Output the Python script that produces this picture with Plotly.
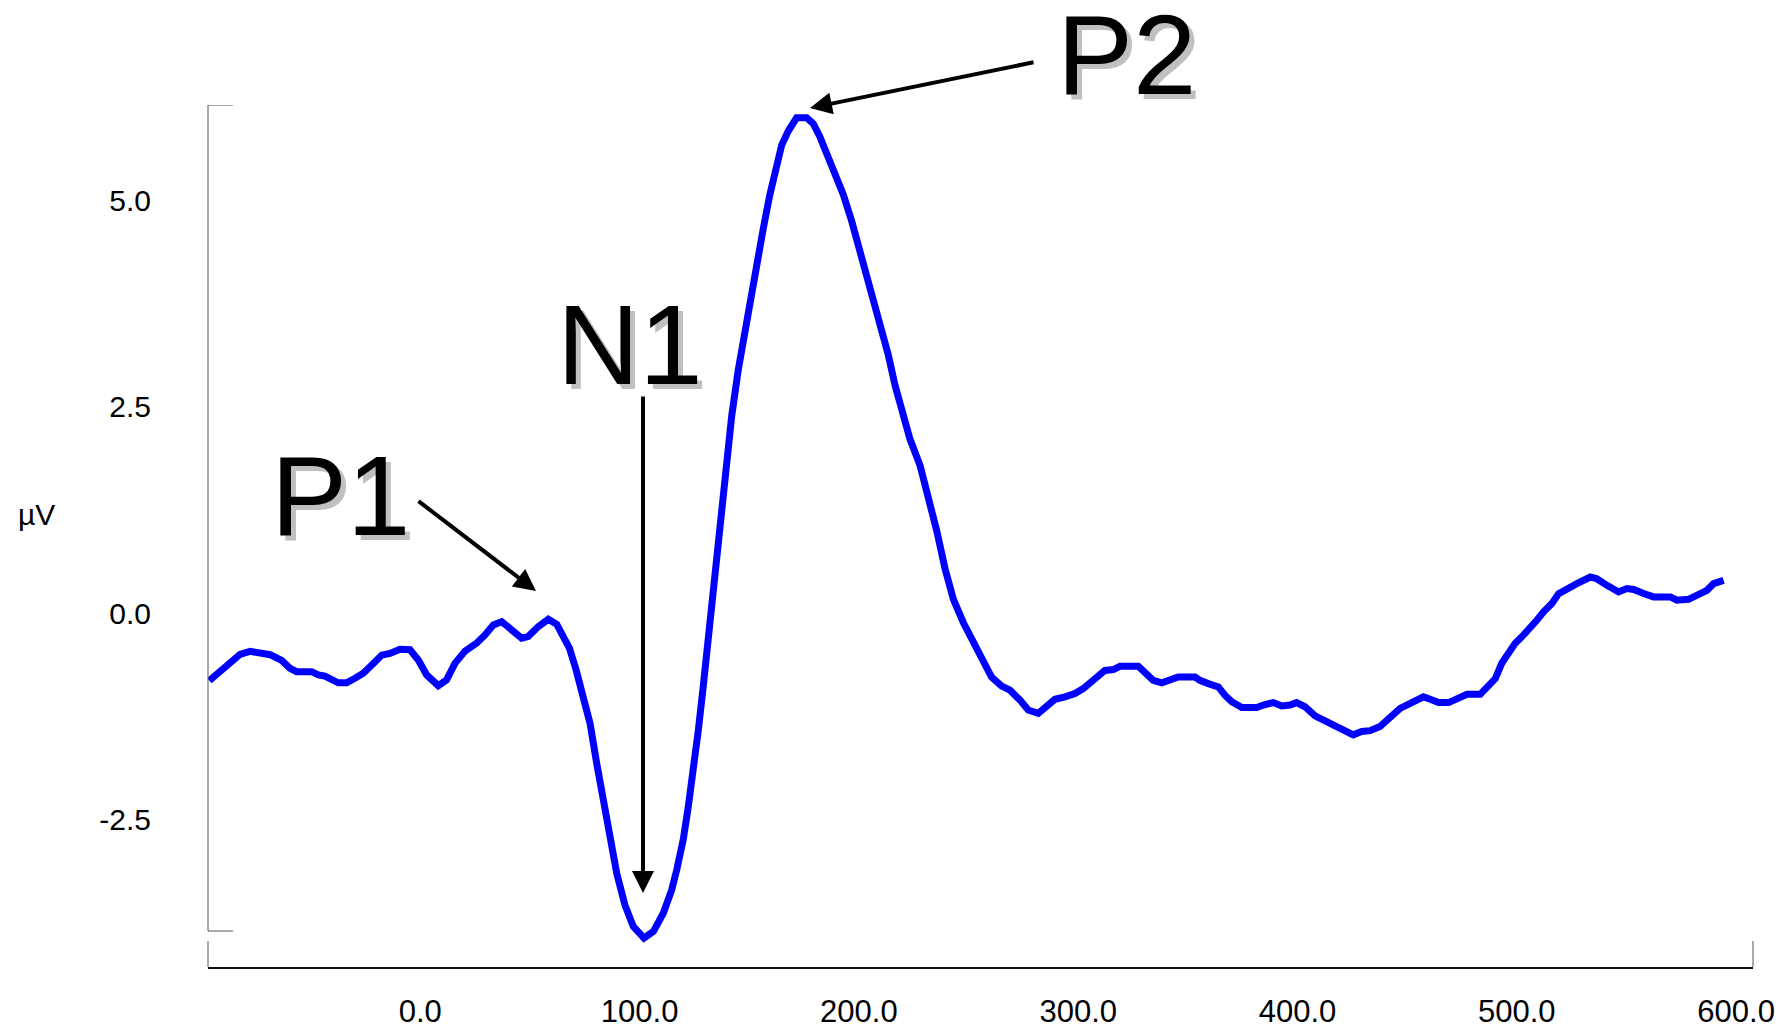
import plotly.graph_objects as go

# Grand-average ERP waveform (time in ms, amplitude in microvolts)
time_ms = [
    -96.2, -86.8, -82.2, -77.6, -73.1, -68.5, -63.2, -59.4, -56.4, -49.5,
    -46.5, -43.5, -37.4, -33.6, -29.8, -26.0, -21.4, -17.6, -13.8, -9.3,
    -4.7, -0.9, 2.9, 8.2, 12.0, 15.8, 20.4, 25.7, 29.5, 33.3,
    37.1, 41.7, 46.2, 49.2, 53.8, 58.4, 62.2, 65.2, 68.0, 71.0,
    74.0, 77.4, 80.4, 83.4, 86.5, 89.6, 93.3, 97.1, 102.0, 106.3,
    110.8, 114.6, 116.9, 119.9, 122.2, 124.5, 126.8, 129.0, 131.3, 133.6,
    136.0, 138.5, 142.0, 145.0, 147.3, 150.3, 153.4, 156.4, 159.4, 162.5,
    164.8, 167.8, 171.6, 176.2, 179.2, 182.2, 185.3, 189.1, 192.9, 196.7,
    200.5, 205.1, 209.6, 213.4, 216.5, 219.5, 223.3, 227.9, 231.6, 235.5,
    239.3, 243.1, 247.6, 252.2, 256.7, 260.5, 265.1, 268.9, 273.5, 277.2,
    281.8, 285.6, 289.4, 294.0, 298.5, 302.3, 305.4, 308.4, 312.2, 316.0,
    319.1, 327.4, 330.5, 334.2, 338.1, 341.1, 345.6, 353.3, 355.5, 359.3,
    363.9, 366.9, 370.0, 374.6, 381.4, 384.4, 389.0, 392.8, 396.6, 399.6,
    403.4, 408.0, 412.5, 417.1, 420.9, 425.4, 429.3, 433.1, 437.6, 442.2,
    446.8, 451.4, 457.4, 460.5, 464.3, 468.9, 472.7, 477.3, 483.3, 487.1,
    490.2, 493.2, 496.2, 499.3, 503.1, 506.1, 509.2, 512.2, 516.0, 519.1,
    522.9, 527.4, 533.5, 536.5, 541.1, 546.4, 550.2, 553.3, 557.8, 562.4,
    570.0, 573.0, 578.3, 582.1, 586.7, 589.7, 594.3,
]
amplitude_uv = [
    -0.815, -0.585, -0.495, -0.46, -0.47, -0.50, -0.57, -0.665, -0.705, -0.705,
    -0.745, -0.76, -0.84, -0.84, -0.785, -0.725, -0.605, -0.505, -0.485, -0.435,
    -0.44, -0.565, -0.745, -0.875, -0.805, -0.605, -0.455, -0.36, -0.26, -0.14,
    -0.10, -0.20, -0.30, -0.28, -0.16, -0.07, -0.13, -0.28, -0.42, -0.68,
    -0.97, -1.33, -1.81, -2.26, -2.74, -3.15, -3.53, -3.79, -3.93, -3.85,
    -3.63, -3.35, -3.11, -2.74, -2.34, -1.94, -1.41, -0.89, -0.32, 0.20,
    0.85, 1.55, 2.39, 2.95, 3.31, 3.82, 4.29, 4.66, 5.07, 5.40,
    5.67, 5.84, 6.00, 6.00, 5.93, 5.77, 5.56, 5.30, 5.07, 4.75,
    4.38, 3.96, 3.55, 3.13, 2.76, 2.44, 2.11, 1.79, 1.42, 1.00,
    0.54, 0.17, -0.11, -0.34, -0.60, -0.77, -0.88, -0.93, -1.05, -1.17,
    -1.21, -1.13, -1.04, -1.01, -0.97, -0.91, -0.84, -0.79, -0.69, -0.68,
    -0.64, -0.64, -0.71, -0.81, -0.84, -0.81, -0.77, -0.77, -0.81, -0.85,
    -0.89, -0.99, -1.07, -1.14, -1.14, -1.11, -1.08, -1.12, -1.11, -1.08,
    -1.13, -1.24, -1.30, -1.35, -1.42, -1.47, -1.43, -1.42, -1.37, -1.25,
    -1.15, -1.09, -1.01, -1.04, -1.08, -1.08, -1.04, -0.98, -0.98, -0.89,
    -0.79, -0.60, -0.48, -0.36, -0.26, -0.18, -0.08, 0.02, 0.12, 0.24,
    0.30, 0.36, 0.44, 0.42, 0.34, 0.26, 0.30, 0.29, 0.24, 0.20,
    0.20, 0.16, 0.17, 0.22, 0.28, 0.36, 0.40,
]

x_tick_vals = [0, 100, 200, 300, 400, 500, 600]
x_tick_text = ["0.0", "100.0", "200.0", "300.0", "400.0", "500.0", "600.0"]
y_tick_vals = [-2.5, 0.0, 2.5, 5.0]
y_tick_text = ["-2.5", "0.0", "2.5", "5.0"]
y_axis_span = [-3.845, 6.155]   # extent of the drawn amplitude axis

# Component labels: (text, label centre px, arrow tail px, arrow tip px)
components = [
    ("P1", (340, 496), (417, 500), (536, 591)),
    ("N1", (630, 344), (643, 395), (643, 893)),
    ("P2", (1126, 54), (1035, 62), (810, 108)),
]

W, H = 1791, 1032
L, R, T, B = 208, 1753, 105, 967   # plotting region in page pixels
PX_PER_UV = 82.6
FONT = "Arial, Liberation Sans, sans-serif"


def px(xp):
    return (xp - L) / (R - L)


def py(yp):
    return (B - yp) / (B - T)


fig = go.Figure()
fig.add_trace(go.Scatter(
    x=time_ms, y=amplitude_uv, mode="lines",
    line=dict(color="#0000ff", width=7), hoverinfo="skip", showlegend=False,
))

y_low = y_axis_span[1] - (B - T) / PX_PER_UV

fig.update_layout(
    width=W, height=H,
    margin=dict(l=L, r=W - R, t=T, b=H - B, pad=0, autoexpand=False),
    paper_bgcolor="white", plot_bgcolor="white",
    font=dict(family=FONT, size=30, color="black"),
    xaxis=dict(
        range=[-96.8, 607.7], automargin=False,
        showgrid=False, zeroline=False,
        showline=True, linecolor="#111111", linewidth=2,
        tickmode="array", tickvals=x_tick_vals, ticktext=x_tick_text,
        ticks="outside", ticklen=16, tickcolor="rgba(0,0,0,0)",
        tickfont=dict(family=FONT, size=31, color="black"),
    ),
    yaxis=dict(
        range=[y_low, y_axis_span[1]], automargin=False,
        showgrid=False, zeroline=False, showline=False,
        tickmode="array", tickvals=y_tick_vals, ticktext=y_tick_text,
        ticks="outside", ticklen=50, tickcolor="rgba(0,0,0,0)",
        tickfont=dict(family=FONT, size=30, color="black"),
    ),
)

axis_grey = dict(color="#555555", width=1)
shapes = [
    # amplitude axis drawn as a bracket
    dict(type="line", xref="paper", yref="y", x0=0, x1=0,
         y0=y_axis_span[0], y1=y_axis_span[1], line=axis_grey),
]
for yy in y_axis_span:
    shapes.append(dict(type="line", xref="paper", yref="y",
                       x0=0, x1=px(L + 25), y0=yy, y1=yy, line=axis_grey))
# End caps of the time axis (bracket)
for xx in (0, 1):
    shapes.append(dict(type="line", xref="paper", yref="paper",
                       x0=xx, x1=xx, y0=0, y1=py(B - 26), line=axis_grey))
fig.update_layout(shapes=shapes)

annotations = [
    dict(text="µV", xref="paper", yref="paper", x=px(36), y=py(514),
         xanchor="center", yanchor="middle", showarrow=False,
         font=dict(family=FONT, size=30, color="black")),
]
for label, (cx, cy), (tx, ty), (hx, hy) in components:
    # drop shadow, then the label itself
    annotations.append(dict(text=label, xref="paper", yref="paper",
                            x=px(cx + 5), y=py(cy + 5), xanchor="center",
                            yanchor="middle", showarrow=False,
                            font=dict(family=FONT, size=114, color="#c0c0c0")))
    annotations.append(dict(text=label, xref="paper", yref="paper",
                            x=px(cx), y=py(cy), xanchor="center",
                            yanchor="middle", showarrow=False,
                            font=dict(family=FONT, size=114, color="black")))
    annotations.append(dict(text="", xref="paper", yref="paper",
                            x=px(hx), y=py(hy), ax=tx - hx, ay=ty - hy,
                            showarrow=True, arrowhead=2, arrowsize=1.1,
                            arrowwidth=4, arrowcolor="black", standoff=0))
fig.update_layout(annotations=annotations)

fig.write_html("out.html")
